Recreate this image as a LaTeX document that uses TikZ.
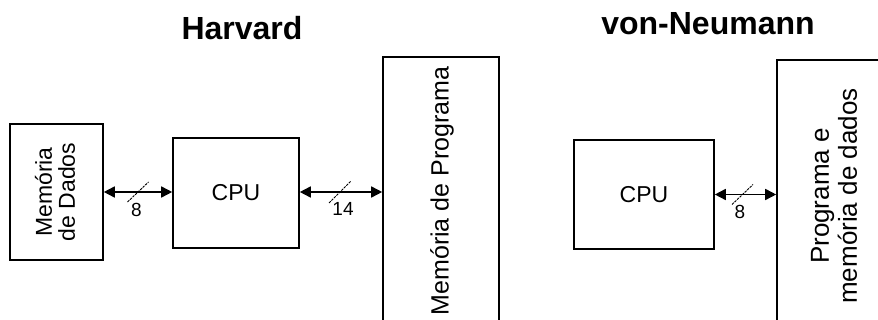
\documentclass[tikz,border=0pt]{standalone}
\usepackage{fontspec}
\setmainfont{Liberation Sans}
\usetikzlibrary{arrows.meta,calc}

\tikzset{
  block/.style={draw=black, line width=1.6pt, fill=none, inner sep=0pt},
  bus/.style={line width=1.6pt, {Triangle[length=11pt,width=11pt]}-{Triangle[length=11pt,width=11pt]}},
  slashmark/.style={line width=0.9pt, dash pattern=on 2.5pt off 1pt},
  title/.style={font=\bfseries\fontsize{32}{36}\selectfont, anchor=base},
  buswidth/.style={font=\fontsize{19}{19}\selectfont, inner sep=0pt},
}

\begin{document}
\begin{tikzpicture}[x=1pt, y=-1pt]
  \clip (0,0) rectangle (878,320);
  \fill[white] (0,0) rectangle (878,320);

  % Harvard architecture
  \node[title] (harvard) at (242,40) {Harvard};
  \node[block, minimum width=93pt, minimum height=136pt] (memdados) at (56.5,192) {};
  \node[rotate=90, align=center, font=\fontsize{23}{23}\selectfont] (memdadosText) at (55,192) {Memória\\de Dados};
  \node[block, minimum width=126pt, minimum height=110pt, font=\fontsize{23}{23}\selectfont] (cpu1) at (236,193) {CPU};
  \node[block, minimum width=116pt, minimum height=268pt] (memprog) at (441,191) {};
  \node[rotate=90, font=\fontsize{25}{25}\selectfont] (memprogText) at (442,191) {Memória de Programa};

  \draw[bus] (memdados.east) -- (memdados.east -| cpu1.west) coordinate[midway] (m1);
  \draw[slashmark] ($(m1)+(-10.5,10)$) -- ($(m1)+(10.5,-10)$);
  \node[buswidth] (w1) at ($(m1)+(-1.5,18)$) {8};

  \draw[bus] ([yshift=1pt]cpu1.east) -- ([yshift=1pt]cpu1.east -| memprog.west) coordinate[midway] (m2);
  \draw[slashmark] ($(m2)+(-12,11)$) -- ($(m2)+(10,-11)$);
  \node[buswidth] (w2) at ($(m2)+(2,17)$) {14};

  % von Neumann architecture
  \node[title] (vonneumann) at (708,35) {von-Neumann};
  \node[block, minimum width=140pt, minimum height=109pt, font=\fontsize{23}{23}\selectfont] (cpu2) at (644,194.5) {CPU};
  \node[block, minimum width=113pt, minimum height=272pt] (memvn) at (833.5,196) {};
  \node[rotate=90, align=center, font=\fontsize{26}{28}\selectfont] (memvnText) at (834,196) {Programa e\\memória de dados};

  \draw[bus] (cpu2.east) -- (cpu2.east -| memvn.west) coordinate[midway] (m3);
  \draw[slashmark] ($(m3)+(-13.5,10)$) -- ($(m3)+(7.5,-10)$);
  \node[buswidth] (w3) at ($(m3)+(-5.5,17)$) {8};
\end{tikzpicture}
\end{document}
